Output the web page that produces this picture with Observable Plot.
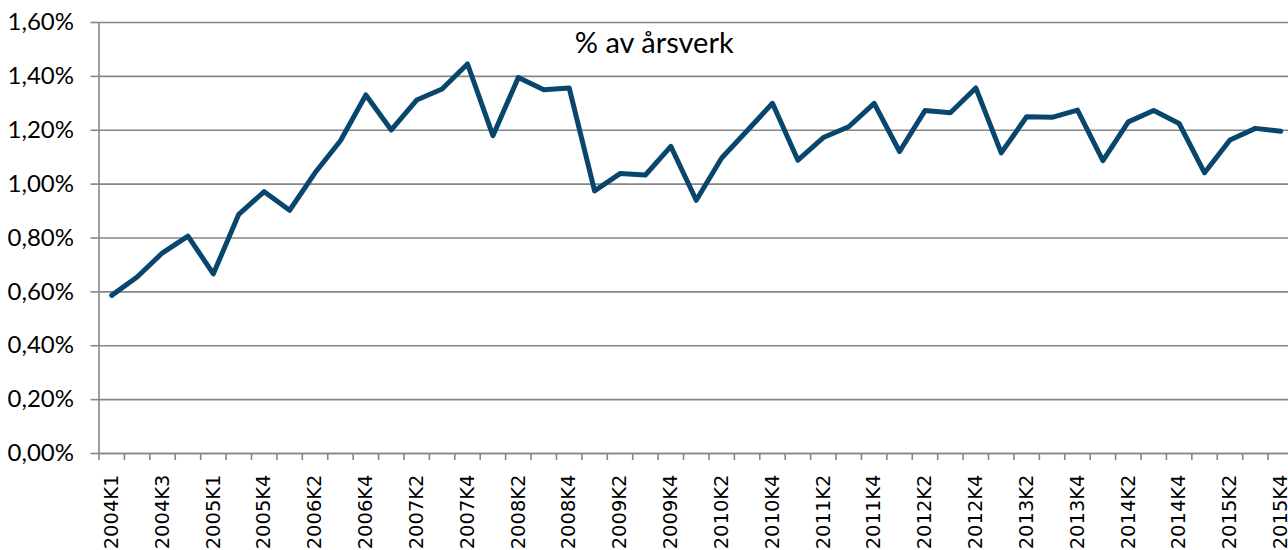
<!DOCTYPE html>
<html><head><meta charset="utf-8">
<script src="https://cdn.jsdelivr.net/npm/d3@7"></script>
<script src="https://cdn.jsdelivr.net/npm/@observablehq/plot@0.6"></script>
<style>
html,body{margin:0;padding:0;background:#fff;overflow:hidden;}
</style>
</head><body><div id="chart"></div>
<script>
const quarters = ["2004K1","2004K2","2004K3","2004K4","2005K1","2005K2","2005K4",
  "2006K1","2006K2","2006K3","2006K4","2007K1","2007K2","2007K3","2007K4",
  "2008K1","2008K2","2008K3","2008K4","2009K1","2009K2","2009K3","2009K4",
  "2010K1","2010K2","2010K3","2010K4","2011K1","2011K2","2011K3","2011K4",
  "2012K1","2012K2","2012K3","2012K4","2013K1","2013K2","2013K3","2013K4",
  "2014K1","2014K2","2014K3","2014K4","2015K1","2015K2","2015K3","2015K4"];
const values = [0.587,0.655,0.745,0.807,0.667,0.888,0.972,
  0.903,1.042,1.161,1.331,1.201,1.312,1.353,1.446,
  1.180,1.396,1.350,1.357,0.975,1.039,1.034,1.140,
  0.940,1.097,1.198,1.300,1.089,1.173,1.213,1.300,
  1.121,1.273,1.265,1.357,1.116,1.250,1.248,1.275,
  1.087,1.231,1.273,1.225,1.042,1.164,1.207,1.196];
const yTicks = [0,0.2,0.4,0.6,0.8,1.0,1.2,1.4,1.6];
const labelTicks = quarters.filter((d,i) => i % 2 === 0);
const title = "% av årsverk";

const data = quarters.map((q,i) => ({q, v: values[i]}));
const W = 1293, H = 550, mL = 98.5, mR = 0, mT = 22, mB = 97;
const step = (W - mL - mR) / quarters.length;
const gray = "#868686";
const fmt = d => d.toFixed(2).replace(".", ",") + "%";

const chart = Plot.plot({
  width: W, height: H,
  marginLeft: mL, marginRight: mR, marginTop: mT, marginBottom: mB,
  style: {fontFamily: "Lato, sans-serif", background: "#fff", color: "#000", maxWidth: "none"},
  x: {type: "band", domain: quarters, padding: 0, round: false, axis: null, label: null},
  y: {domain: [0, 1.6], axis: null, label: null},
  marks: [
    Plot.gridY(yTicks, {stroke: gray, strokeOpacity: 1, strokeWidth: 1.6}),
    Plot.axisY(yTicks, {tickSize: 8, tickPadding: 17, tickFormat: fmt, fontSize: 24,
      stroke: gray, strokeWidth: 1.6, fill: "#000", label: null}),
    Plot.ruleX([quarters[0]], {dx: -step/2, y1: 0, y2: 1.6, stroke: gray, strokeWidth: 1.6}),
    Plot.ruleY([0], {stroke: gray, strokeWidth: 1.6}),
    Plot.axisX(quarters, {tickSize: 7, tickFormat: () => "", dx: -step/2, stroke: gray,
      strokeWidth: 1.6, label: null}),
    Plot.text(labelTicks, {x: d => d, frameAnchor: "bottom", rotate: -90, textAnchor: "end",
      lineAnchor: "middle", dy: 21, fontSize: 19.5, fontFamily: "DejaVu Sans, sans-serif", fill: "#000"}),
    Plot.line(data, {x: "q", y: "v", stroke: "#08466d", strokeWidth: 5,
      strokeLinejoin: "round", strokeLinecap: "round"}),
    Plot.text([title], {frameAnchor: "top", lineAnchor: "top", dx: -42, dy: 10, fontSize: 29,
      fill: "#000"})
  ]
});
document.getElementById("chart").appendChild(chart);
</script>
</body></html>
